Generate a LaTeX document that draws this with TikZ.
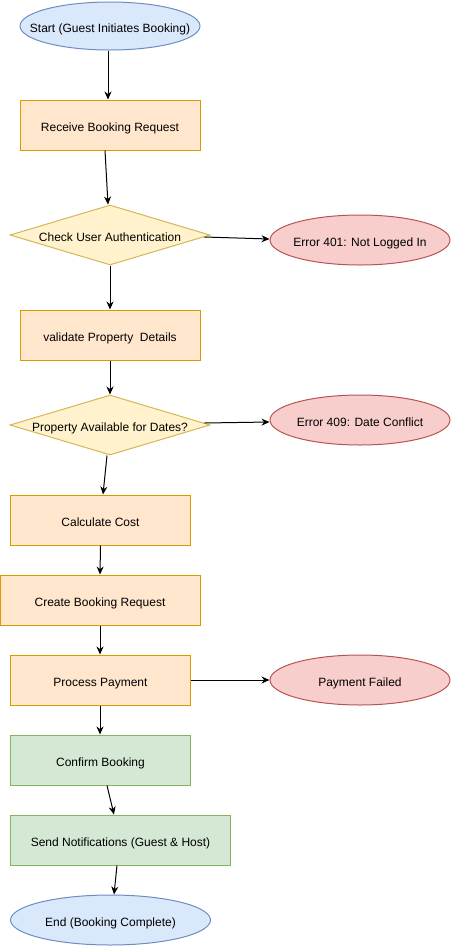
\documentclass[tikz,border=0pt]{standalone}
\usepackage{fontspec}
\setmainfont{Liberation Sans}
\usetikzlibrary{shapes.geometric,arrows.meta}
\definecolor{bluefill}{HTML}{DAE8FC}\definecolor{blueline}{HTML}{6C8EBF}
\definecolor{orangefill}{HTML}{FFE6CC}\definecolor{orangeline}{HTML}{D79B00}
\definecolor{yellowfill}{HTML}{FFF2CC}\definecolor{yellowline}{HTML}{D6B656}
\definecolor{redfill}{HTML}{F8CECC}\definecolor{redline}{HTML}{B85450}
\definecolor{greenfill}{HTML}{D5E8D4}\definecolor{greenline}{HTML}{82B366}
\begin{document}
\begin{tikzpicture}[x=1pt,y=-1pt,>={Stealth[length=8pt,width=7pt]},
  every node/.style={font=\fontsize{12}{14}\selectfont,inner sep=0pt,line width=1pt,
    text height=12pt,text depth=0pt},
  terminal/.style={ellipse,inner xsep=-30pt,draw=blueline,fill=bluefill,minimum width=180pt,minimum height=48pt},
  stepbox/.style={rectangle,draw=orangeline,fill=orangefill,minimum width=180pt,minimum height=50pt},
  okbox/.style={rectangle,draw=greenline,fill=greenfill,minimum width=180pt,minimum height=50pt},
  check/.style={diamond,aspect=3.33,draw=yellowline,fill=yellowfill,minimum width=200pt,minimum height=60pt},
  failure/.style={ellipse,inner xsep=-30pt,draw=redline,fill=redfill,minimum width=180pt,minimum height=50pt},
  flow/.style={->,line width=1pt}]
\useasboundingbox (0,0) rectangle (451,946);
\node[terminal] (start) at (110,26) {Start (Guest Initiates Booking)};
\node[stepbox] (recv) at (110,125) {Receive Booking Request};
\node[check] (auth) at (110,235) {Check User Authentication};
\node[failure] (err401) at (360,240) {Error 401: Not Logged In};
\node[stepbox] (valid) at (110,335) {validate Property\ \ Details};
\node[check] (avail) at (110,425) {Property Available for Dates?};
\node[failure] (err409) at (360,420) {Error 409: Date Conflict};
\node[stepbox] (calc) at (100.5,520) {Calculate Cost};
\node[stepbox,minimum width=200pt] (create) at (100,600) {Create Booking Request};
\node[stepbox] (pay) at (100.5,680) {Process Payment};
\node[failure] (payfail) at (360,680) {Payment Failed};
\node[okbox] (confirm) at (100.5,760) {Confirm Booking};
\node[okbox,minimum width=220pt] (notify) at (120.5,840) {Send Notifications (Guest \& Host)};
\node[terminal,minimum width=200pt,minimum height=50pt] (finish) at (110.5,920) {End (Booking Complete)};

\draw[flow] ([xshift=-2pt]start.south) -- ([xshift=-2pt]recv.north);
\draw[flow] ([xshift=-5pt]recv.south) -- ([xshift=-2pt]auth.north);
\draw[flow] ([xshift=-6pt,yshift=-2pt]auth.east) -- ([yshift=1pt]err401.west);
\draw[flow] (auth.south) -- (valid.north);
\draw[flow] (valid.south) -- (avail.north);
\draw[flow] ([xshift=-6pt,yshift=2pt]avail.east) -- ([yshift=-2pt]err409.west);
\draw[flow] ([xshift=-3pt]avail.south) -- ([xshift=2.5pt]calc.north);
\draw[flow] (calc.south) -- (create.north);
\draw[flow] (create.south) -- ([xshift=-0.5pt]pay.north);
\draw[flow] (pay.east) -- (payfail.west);
\draw[flow] ([xshift=-0.5pt]pay.south) -- ([xshift=-0.5pt]confirm.north);
\draw[flow] ([xshift=6.5pt]confirm.south) -- ([xshift=-6.5pt]notify.north);
\draw[flow] ([xshift=-3.5pt]notify.south) -- ([xshift=3.5pt]finish.north);
\end{tikzpicture}
\end{document}
